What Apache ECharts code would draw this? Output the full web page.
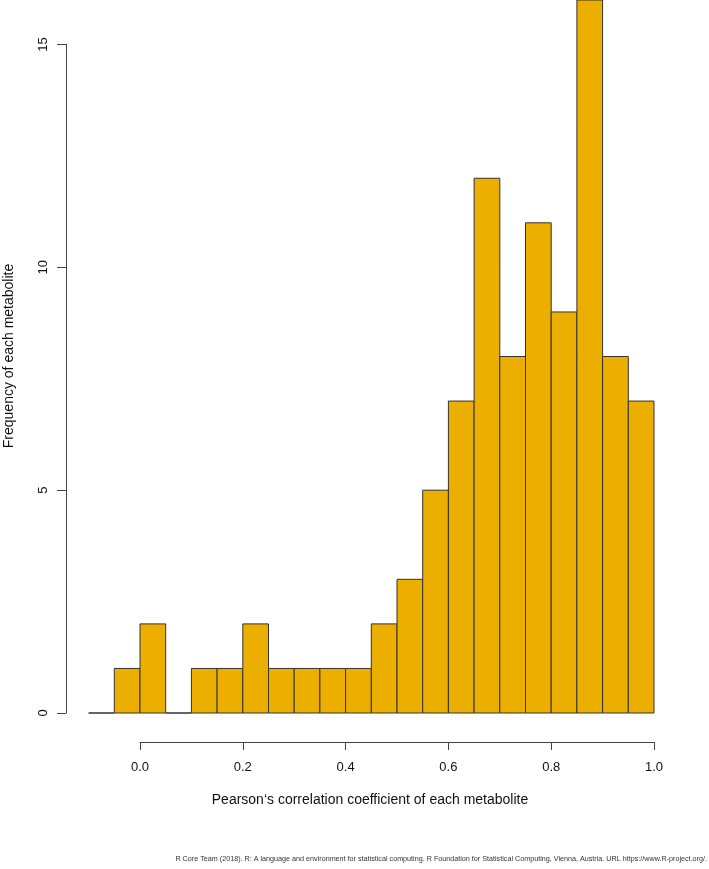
<!DOCTYPE html>
<html>
<head>
<meta charset="utf-8">
<script src="https://cdn.jsdelivr.net/npm/echarts@6/dist/echarts.min.js"></script>
<style>
html, body { margin: 0; padding: 0; background: #fff; }
#main { width: 709px; height: 869px; }
</style>
</head>
<body>
<div id="main"></div>
<script>
// histogram bins (left edges) and counts
var binStarts = [-0.1, -0.05, 0.0, 0.05, 0.1, 0.15, 0.2, 0.25, 0.3, 0.35, 0.4, 0.45, 0.5, 0.55, 0.6, 0.65, 0.7, 0.75, 0.8, 0.85, 0.9, 0.95];
var binWidth = 0.05;
var counts = [0, 1, 2, 0, 1, 1, 2, 1, 1, 1, 1, 2, 3, 5, 7, 12, 8, 11, 9, 16, 8, 7];
var xTicks = [0.0, 0.2, 0.4, 0.6, 0.8, 1.0];
var yTicks = [0, 5, 10, 15];

var xTitle = 'Pearson‘s correlation coefficient of each metabolite';
var yTitle = 'Frequency of each metabolite';
var footer = 'R Core Team (2018). R: A language and environment for statistical computing. R Foundation for Statistical Computing, Vienna, Austria. URL https://www.R-project.org/.';

var font = '"Liberation Sans", Arial, Helvetica, sans-serif';
var barColor = '#ECAF00';

var histData = binStarts.map(function(s, i) {
	return [s, s + binWidth, counts[i]];
});

var myChart = echarts.init(document.getElementById('main'));

var option = {
	animation: false,
	textStyle: { fontFamily: font },
	grid: [
		// plotting area
		{ left: 88.6, right: 55, top: 0, bottom: 156 },
		// visible x axis (0 .. 1)
		{ left: 140, right: 55, top: 740, bottom: 127 },
		// visible y axis (0 .. 15)
		{ left: 66, width: 1, top: 44.4, bottom: 156 }
	],
	xAxis: [{
		gridIndex: 0, type: 'value', min: -0.1, max: 1.0, show: false
	}, {
		gridIndex: 1, type: 'value', min: 0, max: 1, interval: 0.2,
		axisLine: { show: true, lineStyle: { color: '#444', width: 1 } },
		axisTick: { show: true, length: 8, lineStyle: { color: '#444' } },
		splitLine: { show: false },
		axisLabel: {
			margin: 19, fontSize: 13, color: '#111', fontFamily: font,
			formatter: function(v) { return v.toFixed(1); },
			showMinLabel: true, showMaxLabel: true
		}
	}, {
		gridIndex: 2, type: 'value', show: false
	}],
	yAxis: [{
		gridIndex: 0, type: 'value', min: 0, max: 16, show: false
	}, {
		gridIndex: 1, type: 'value', show: false
	}, {
		gridIndex: 2, type: 'value', min: 0, max: 15, interval: 5,
		axisLine: { show: true, lineStyle: { color: '#444', width: 1 } },
		axisTick: { show: true, length: 9, lineStyle: { color: '#444' } },
		splitLine: { show: false },
		axisLabel: {
			margin: 16, rotate: 90, fontSize: 13, color: '#111', fontFamily: font,
			showMinLabel: true, showMaxLabel: true
		}
	}],
	series: [{
		type: 'custom',
		xAxisIndex: 0,
		yAxisIndex: 0,
		data: histData,
		encode: { x: [0, 1], y: 2 },
		renderItem: function(params, api) {
			var p0 = api.coord([api.value(0), api.value(2)]);
			var p1 = api.coord([api.value(1), 0]);
			return {
				type: 'rect',
				shape: { x: p0[0], y: p0[1], width: p1[0] - p0[0], height: p1[1] - p0[1] },
				style: { fill: barColor, stroke: '#333', lineWidth: 1 }
			};
		}
	}],
	graphic: [{
		type: 'text',
		x: 370, y: 800,
		style: { text: xTitle, font: '14px ' + font, fill: '#111', textAlign: 'center', textVerticalAlign: 'middle' }
	}, {
		type: 'text',
		x: 9, y: 356, rotation: Math.PI / 2,
		style: { text: yTitle, font: '14px ' + font, fill: '#111', textAlign: 'center', textVerticalAlign: 'middle' }
	}, {
		type: 'text',
		x: 707, y: 859,
		style: { text: footer, font: '7.2px ' + font, fill: '#333', textAlign: 'right', textVerticalAlign: 'middle' }
	}]
};

myChart.setOption(option);
</script>
</body>
</html>
